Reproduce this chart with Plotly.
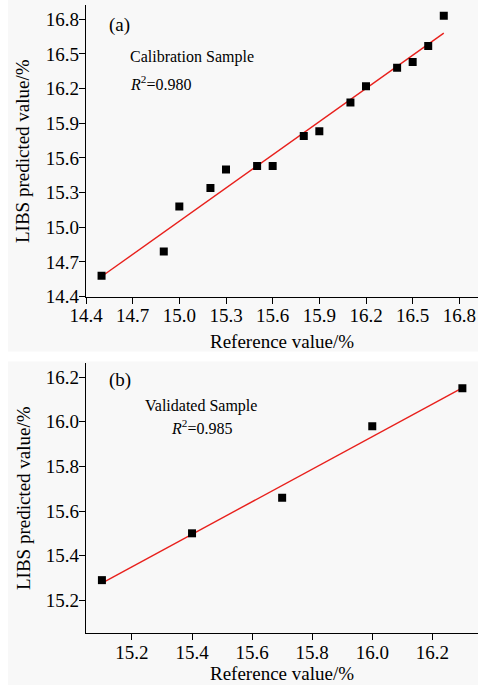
import plotly.graph_objects as go

# ---- data ----
cal_ref = [14.5, 14.9, 15.0, 15.2, 15.3, 15.5, 15.6, 15.8, 15.9, 16.1, 16.2, 16.4, 16.5, 16.6, 16.7]
cal_pred = [14.58, 14.79, 15.18, 15.34, 15.50, 15.53, 15.53, 15.79, 15.83, 16.08, 16.22, 16.38, 16.43, 16.57, 16.83]
cal_fit_x = [14.5, 16.7]
cal_fit_y = [14.573, 16.68]

val_ref = [15.1, 15.4, 15.7, 16.0, 16.3]
val_pred = [15.29, 15.50, 15.66, 15.98, 16.15]
val_fit_x = [15.1, 16.3]
val_fit_y = [15.277, 16.152]

cal_ticks = [14.4, 14.7, 15.0, 15.3, 15.6, 15.9, 16.2, 16.5, 16.8]
val_xticks = [15.2, 15.4, 15.6, 15.8, 16.0, 16.2]
val_yticks = [15.2, 15.4, 15.6, 15.8, 16.0, 16.2]

x_title = "Reference value/%"
y_title = "LIBS predicted value/%"

# ---- layout geometry (pixels) ----
W, H = 486, 685
L, R, T, B = 86, 8, 5, 52
PW, PH = W - L - R, H - T - B

def px_x(p):
    return (p - L) / PW

def px_y(p):
    return (H - B - p) / PH

FONT = "Times New Roman, Liberation Serif, serif"
fig = go.Figure()

fig.add_trace(go.Scatter(x=cal_fit_x, y=cal_fit_y, mode="lines",
                         line=dict(color="#e8201c", width=1.4),
                         xaxis="x", yaxis="y", showlegend=False))
fig.add_trace(go.Scatter(x=cal_ref, y=cal_pred, mode="markers",
                         marker=dict(symbol="square", size=8, color="black"),
                         xaxis="x", yaxis="y", showlegend=False))
fig.add_trace(go.Scatter(x=val_fit_x, y=val_fit_y, mode="lines",
                         line=dict(color="#e8201c", width=1.4),
                         xaxis="x2", yaxis="y2", showlegend=False))
fig.add_trace(go.Scatter(x=val_ref, y=val_pred, mode="markers",
                         marker=dict(symbol="square", size=8, color="black"),
                         xaxis="x2", yaxis="y2", showlegend=False))

axis_common = dict(showgrid=False, zeroline=False, showline=True, linecolor="black",
                   linewidth=1.2, ticks="outside", ticklen=6, tickwidth=1.2,
                   tickcolor="black", tickfont=dict(family=FONT, size=19, color="black"),
                   mirror=False, automargin=False, ticklabelstandoff=-4)

title_font = dict(family=FONT, size=19, color="black")
note_font = dict(family=FONT, size=16, color="black")

fig.update_layout(
    template="none",
    width=W, height=H,
    margin=dict(l=L, r=R, t=T, b=B),
    paper_bgcolor="white",
    plot_bgcolor="rgba(0,0,0,0)",
    font=dict(family=FONT, color="black"),
    xaxis=dict(domain=[0, 1], anchor="y", range=[14.4, 16.92], tickvals=cal_ticks,
               ticktext=[f"{v:.1f}" for v in cal_ticks], **axis_common),
    yaxis=dict(domain=[px_y(296.5), 1], anchor="x", range=[14.4, 16.924], tickvals=cal_ticks,
               ticktext=[f"{v:.1f}" for v in cal_ticks], **axis_common),
    xaxis2=dict(domain=[0, 1], anchor="y2", range=[15.047, 16.352], tickvals=val_xticks,
                ticktext=[f"{v:.1f}" for v in val_xticks], **axis_common),
    yaxis2=dict(domain=[0, px_y(362.7)], anchor="x2", range=[15.053, 16.265], tickvals=val_yticks,
                ticktext=[f"{v:.1f}" for v in val_yticks], **axis_common),
    shapes=[
        dict(type="rect", xref="paper", yref="paper", layer="below",
             x0=px_x(8), x1=px_x(478), y0=px_y(351.5), y1=px_y(0),
             fillcolor="#f8f8f8", line=dict(width=0)),
        dict(type="rect", xref="paper", yref="paper", layer="below",
             x0=px_x(8), x1=px_x(478), y0=px_y(685), y1=px_y(361.5),
             fillcolor="#f8f8f8", line=dict(width=0)),
    ],
    annotations=[
        # axis titles
        dict(text=x_title, xref="paper", yref="paper", x=px_x(282), y=px_y(341),
             xanchor="center", yanchor="middle", showarrow=False, font=title_font),
        dict(text=x_title, xref="paper", yref="paper", x=px_x(282), y=px_y(673),
             xanchor="center", yanchor="middle", showarrow=False, font=title_font),
        dict(text=y_title, xref="paper", yref="paper", x=px_x(23), y=px_y(151),
             xanchor="center", yanchor="middle", showarrow=False, textangle=-90,
             font=title_font),
        dict(text=y_title, xref="paper", yref="paper", x=px_x(23), y=px_y(498),
             xanchor="center", yanchor="middle", showarrow=False, textangle=-90,
             font=title_font),
        # panel labels and notes
        dict(text="(a)", xref="paper", yref="paper", x=px_x(107), y=px_y(25),
             xanchor="left", yanchor="middle", showarrow=False,
             font=dict(family=FONT, size=19, color="black")),
        dict(text="Calibration Sample", xref="paper", yref="paper", x=px_x(128), y=px_y(57),
             xanchor="left", yanchor="middle", showarrow=False, font=note_font),
        dict(text="<i>R</i><sup>2</sup>=0.980", xref="paper", yref="paper", x=px_x(128), y=px_y(83),
             xanchor="left", yanchor="middle", showarrow=False, font=note_font),
        dict(text="(b)", xref="paper", yref="paper", x=px_x(107), y=px_y(380),
             xanchor="left", yanchor="middle", showarrow=False,
             font=dict(family=FONT, size=19, color="black")),
        dict(text="Validated Sample", xref="paper", yref="paper", x=px_x(143), y=px_y(406),
             xanchor="left", yanchor="middle", showarrow=False, font=note_font),
        dict(text="<i>R</i><sup>2</sup>=0.985", xref="paper", yref="paper", x=px_x(169), y=px_y(427),
             xanchor="left", yanchor="middle", showarrow=False, font=note_font),
    ],
)

fig.write_html("out.html")
